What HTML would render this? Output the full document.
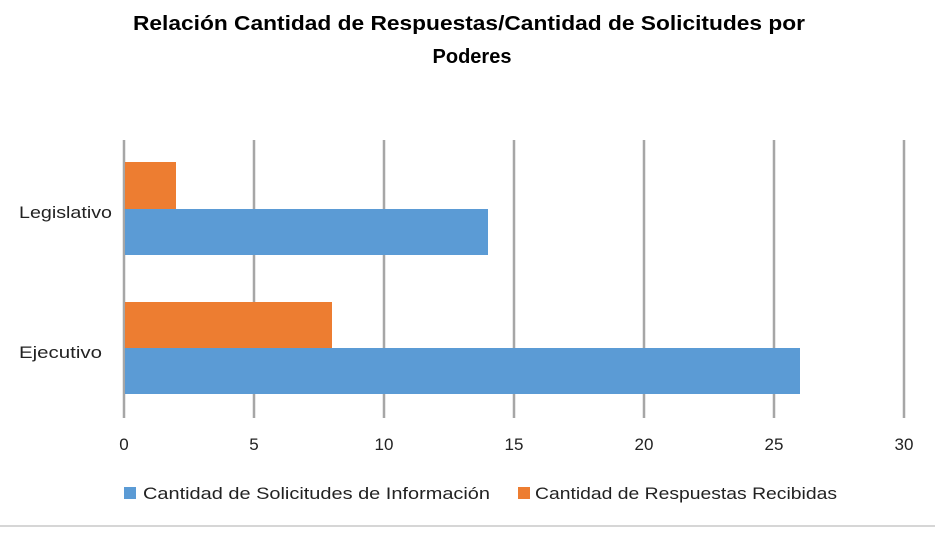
<!DOCTYPE html>
<html><head><meta charset="utf-8"><style>
body{margin:0;background:#fff;}
svg{display:block;font-family:"Liberation Sans",sans-serif;}
</style></head><body>
<svg width="945" height="535" xmlns="http://www.w3.org/2000/svg">
<rect width="945" height="535" fill="#fff"/>
<text x="133" y="30" font-size="20" font-weight="bold" fill="#000" textLength="672" lengthAdjust="spacingAndGlyphs">Relación Cantidad de Respuestas/Cantidad de Solicitudes por</text>
<text x="472" y="63" text-anchor="middle" font-size="20" font-weight="bold" fill="#000">Poderes</text>
<g stroke="#a6a6a6" stroke-width="2.5">
<line x1="124" y1="140" x2="124" y2="418"/>
<line x1="254" y1="140" x2="254" y2="418"/>
<line x1="384" y1="140" x2="384" y2="418"/>
<line x1="514" y1="140" x2="514" y2="418"/>
<line x1="644" y1="140" x2="644" y2="418"/>
<line x1="774" y1="140" x2="774" y2="418"/>
<line x1="904" y1="140" x2="904" y2="418"/>
</g>
<rect x="125" y="162" width="51" height="47" fill="#ed7d31"/>
<rect x="125" y="209" width="363" height="46" fill="#5b9bd5"/>
<rect x="125" y="302" width="207" height="46" fill="#ed7d31"/>
<rect x="125" y="348" width="675" height="46" fill="#5b9bd5"/>
<g font-size="17" fill="#222">
<text x="19" y="218" textLength="93" lengthAdjust="spacingAndGlyphs">Legislativo</text>
<text x="19" y="358" textLength="83" lengthAdjust="spacingAndGlyphs">Ejecutivo</text>
<g text-anchor="middle">
<text x="124" y="450">0</text><text x="254" y="450">5</text><text x="384" y="450">10</text>
<text x="514" y="450">15</text><text x="644" y="450">20</text><text x="774" y="450">25</text><text x="904" y="450">30</text>
</g>
<rect x="124" y="487" width="12" height="12" fill="#5b9bd5"/>
<text x="143" y="499" textLength="347" lengthAdjust="spacingAndGlyphs">Cantidad de Solicitudes de Información</text>
<rect x="518" y="487" width="12" height="12" fill="#ed7d31"/>
<text x="535" y="499" textLength="302" lengthAdjust="spacingAndGlyphs">Cantidad de Respuestas Recibidas</text>
</g>
<line x1="0" y1="526" x2="935" y2="526" stroke="#c8c8c8" stroke-width="1.5"/>
</svg>
</body></html>
